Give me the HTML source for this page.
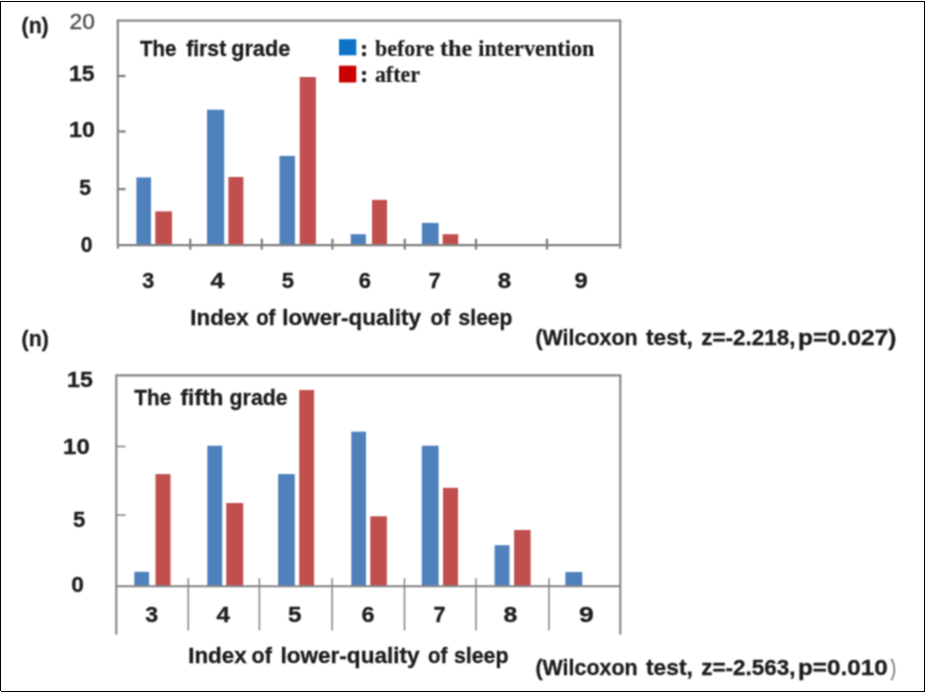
<!DOCTYPE html>
<html lang="en">
<head>
<meta charset="utf-8">
<title>Index of lower-quality of sleep</title>
<style>
html,body{margin:0;padding:0;background:#fff;}
body{width:926px;height:692px;overflow:hidden;}
svg{display:block;}
text{white-space:pre;}
</style>
</head>
<body>
<svg width="926" height="692" viewBox="0 0 926 692">
<rect x="0" y="0" width="926" height="692" fill="#fff"/>
<!-- outer frame -->
<rect x="0.00" y="1.00" width="925.00" height="1.00" fill="#000"/>
<rect x="1.00" y="691.00" width="924.00" height="1.00" fill="#000"/>
<rect x="0.00" y="1.00" width="1.00" height="690.00" fill="#000"/>
<rect x="924.00" y="1.00" width="1.00" height="691.00" fill="#000"/>
<defs><filter id="soft" x="0" y="0" width="926" height="692" filterUnits="userSpaceOnUse"><feConvolveMatrix order="3" kernelMatrix="1 2 1 2 4 2 1 2 1" edgeMode="duplicate"/></filter></defs>
<g filter="url(#soft)">
<!-- chart 1 -->
<rect x="136.40" y="177.40" width="14.60" height="67.70" fill="#4f81bd"/>
<rect x="155.30" y="211.40" width="16.70" height="33.70" fill="#c0504d"/>
<rect x="207.00" y="109.70" width="17.20" height="135.40" fill="#4f81bd"/>
<rect x="228.40" y="177.00" width="15.00" height="68.10" fill="#c0504d"/>
<rect x="279.50" y="155.90" width="15.50" height="89.20" fill="#4f81bd"/>
<rect x="299.70" y="77.00" width="16.20" height="168.10" fill="#c0504d"/>
<rect x="350.70" y="234.20" width="15.20" height="10.90" fill="#4f81bd"/>
<rect x="372.00" y="199.90" width="15.00" height="45.20" fill="#c0504d"/>
<rect x="421.90" y="222.90" width="16.70" height="22.20" fill="#4f81bd"/>
<rect x="442.70" y="234.20" width="15.50" height="10.90" fill="#c0504d"/>
<line x1="117.80" y1="19.40" x2="117.80" y2="248.70" stroke="#8c8c8c" stroke-width="2.30"/>
<line x1="620.15" y1="19.40" x2="620.15" y2="248.70" stroke="#8c8c8c" stroke-width="2.30"/>
<line x1="117.80" y1="20.55" x2="620.15" y2="20.55" stroke="#8c8c8c" stroke-width="2.30"/>
<line x1="117.80" y1="245.10" x2="620.15" y2="245.10" stroke="#808080" stroke-width="2.30"/>
<line x1="117.80" y1="76.00" x2="125.60" y2="76.00" stroke="#808080" stroke-width="2.30"/>
<line x1="117.80" y1="131.50" x2="125.60" y2="131.50" stroke="#808080" stroke-width="2.30"/>
<line x1="117.80" y1="189.10" x2="125.60" y2="189.10" stroke="#808080" stroke-width="2.30"/>
<line x1="190.30" y1="238.70" x2="190.30" y2="249.60" stroke="#808080" stroke-width="2.30"/>
<line x1="261.80" y1="238.70" x2="261.80" y2="249.60" stroke="#808080" stroke-width="2.30"/>
<line x1="332.40" y1="238.70" x2="332.40" y2="249.60" stroke="#808080" stroke-width="2.30"/>
<line x1="404.80" y1="238.70" x2="404.80" y2="249.60" stroke="#808080" stroke-width="2.30"/>
<line x1="476.00" y1="238.70" x2="476.00" y2="249.60" stroke="#808080" stroke-width="2.30"/>
<line x1="547.00" y1="238.70" x2="547.00" y2="249.60" stroke="#808080" stroke-width="2.30"/>
<rect x="339.00" y="39.20" width="17.30" height="16.10" fill="#0d73c7"/>
<rect x="339.00" y="65.70" width="17.30" height="16.80" fill="#cb0204"/>
<!-- chart 2 -->
<rect x="134.30" y="571.80" width="14.80" height="14.40" fill="#4f81bd"/>
<rect x="155.50" y="474.10" width="15.00" height="112.10" fill="#c0504d"/>
<rect x="207.30" y="445.70" width="14.90" height="140.50" fill="#4f81bd"/>
<rect x="226.20" y="503.00" width="17.00" height="83.20" fill="#c0504d"/>
<rect x="278.10" y="474.10" width="16.70" height="112.10" fill="#4f81bd"/>
<rect x="299.20" y="390.00" width="14.90" height="196.20" fill="#c0504d"/>
<rect x="351.30" y="431.70" width="14.70" height="154.50" fill="#4f81bd"/>
<rect x="370.30" y="516.30" width="16.60" height="69.90" fill="#c0504d"/>
<rect x="421.80" y="445.70" width="16.80" height="140.50" fill="#4f81bd"/>
<rect x="443.00" y="487.80" width="15.00" height="98.40" fill="#c0504d"/>
<rect x="494.60" y="545.20" width="14.90" height="41.00" fill="#4f81bd"/>
<rect x="514.10" y="530.00" width="16.50" height="56.20" fill="#c0504d"/>
<rect x="565.40" y="572.00" width="16.90" height="14.20" fill="#4f81bd"/>
<line x1="116.30" y1="374.35" x2="116.30" y2="634.60" stroke="#848484" stroke-width="2.10"/>
<line x1="620.30" y1="374.35" x2="620.30" y2="634.60" stroke="#848484" stroke-width="2.10"/>
<line x1="116.30" y1="375.40" x2="620.30" y2="375.40" stroke="#848484" stroke-width="2.10"/>
<line x1="116.30" y1="586.20" x2="620.30" y2="586.20" stroke="#848484" stroke-width="2.10"/>
<line x1="116.30" y1="446.50" x2="125.70" y2="446.50" stroke="#848484" stroke-width="1.50"/>
<line x1="116.30" y1="515.10" x2="125.70" y2="515.10" stroke="#848484" stroke-width="1.50"/>
<line x1="188.30" y1="578.20" x2="188.30" y2="630.50" stroke="#848484" stroke-width="1.50"/>
<line x1="259.40" y1="578.20" x2="259.40" y2="630.50" stroke="#848484" stroke-width="1.50"/>
<line x1="332.10" y1="578.20" x2="332.10" y2="630.50" stroke="#848484" stroke-width="1.50"/>
<line x1="404.50" y1="578.20" x2="404.50" y2="630.50" stroke="#848484" stroke-width="1.50"/>
<line x1="476.00" y1="578.20" x2="476.00" y2="630.50" stroke="#848484" stroke-width="1.50"/>
<line x1="549.00" y1="578.20" x2="549.00" y2="630.50" stroke="#848484" stroke-width="1.50"/>
<!-- labels -->
<text id="t0" x="21.60" y="32.50" font-family='"Liberation Sans", sans-serif' font-size="22.40" font-weight="700" fill="#1c1c1c" stroke="#1c1c1c" stroke-width="0.3" textLength="27.10" lengthAdjust="spacingAndGlyphs">(n)</text>
<text id="t1" x="69.60" y="29.30" font-family='"Liberation Sans", sans-serif' font-size="21.80" font-weight="400" fill="#505050" stroke="#505050" stroke-width="0.4" textLength="25.41" lengthAdjust="spacingAndGlyphs">20</text>
<text id="t2" x="69.10" y="81.20" font-family='"Liberation Sans", sans-serif' font-size="22.30" font-weight="700" fill="#1c1c1c" stroke="#1c1c1c" stroke-width="0.3" textLength="25.51" lengthAdjust="spacingAndGlyphs">15</text>
<text id="t3" x="69.10" y="137.00" font-family='"Liberation Sans", sans-serif' font-size="22.30" font-weight="700" fill="#1c1c1c" stroke="#1c1c1c" stroke-width="0.3" textLength="25.91" lengthAdjust="spacingAndGlyphs">10</text>
<text id="t4" x="79.20" y="194.60" font-family='"Liberation Sans", sans-serif' font-size="22.30" font-weight="700" fill="#1c1c1c" stroke="#1c1c1c" stroke-width="0.3" textLength="11.80" lengthAdjust="spacingAndGlyphs">5</text>
<text id="t5" x="80.80" y="251.70" font-family='"Liberation Sans", sans-serif' font-size="22.30" font-weight="700" fill="#1c1c1c" stroke="#1c1c1c" stroke-width="0.3" textLength="11.80" lengthAdjust="spacingAndGlyphs">0</text>
<text id="t6" x="142.20" y="288.00" font-family='"Liberation Sans", sans-serif' font-size="22.30" font-weight="700" fill="#1c1c1c" stroke="#1c1c1c" stroke-width="0.3" textLength="12.00" lengthAdjust="spacingAndGlyphs">3</text>
<text id="t7" x="210.60" y="288.00" font-family='"Liberation Sans", sans-serif' font-size="22.30" font-weight="700" fill="#1c1c1c" stroke="#1c1c1c" stroke-width="0.3" textLength="13.80" lengthAdjust="spacingAndGlyphs">4</text>
<text id="t8" x="281.80" y="288.00" font-family='"Liberation Sans", sans-serif' font-size="22.30" font-weight="700" fill="#1c1c1c" stroke="#1c1c1c" stroke-width="0.3" textLength="12.20" lengthAdjust="spacingAndGlyphs">5</text>
<text id="t9" x="358.80" y="288.00" font-family='"Liberation Sans", sans-serif' font-size="22.30" font-weight="700" fill="#1c1c1c" stroke="#1c1c1c" stroke-width="0.3" textLength="12.20" lengthAdjust="spacingAndGlyphs">6</text>
<text id="t10" x="428.80" y="288.00" font-family='"Liberation Sans", sans-serif' font-size="22.30" font-weight="700" fill="#1c1c1c" stroke="#1c1c1c" stroke-width="0.3" textLength="12.00" lengthAdjust="spacingAndGlyphs">7</text>
<text id="t11" x="497.80" y="288.00" font-family='"Liberation Sans", sans-serif' font-size="22.30" font-weight="700" fill="#1c1c1c" stroke="#1c1c1c" stroke-width="0.3" textLength="13.40" lengthAdjust="spacingAndGlyphs">8</text>
<text id="t12" x="574.40" y="288.00" font-family='"Liberation Sans", sans-serif' font-size="22.30" font-weight="700" fill="#1c1c1c" stroke="#1c1c1c" stroke-width="0.3" textLength="13.20" lengthAdjust="spacingAndGlyphs">9</text>
<text><tspan id="t13" x="139.90" y="56.00" font-family='"Liberation Sans", sans-serif' font-size="22.30" font-weight="700" fill="#1c1c1c" stroke="#1c1c1c" stroke-width="0.3" textLength="36.50" lengthAdjust="spacingAndGlyphs">The</tspan> <tspan id="t14" x="186.20" y="56.00" font-family='"Liberation Sans", sans-serif' font-size="22.30" font-weight="700" fill="#1c1c1c" stroke="#1c1c1c" stroke-width="0.3" textLength="40.00" lengthAdjust="spacingAndGlyphs">first</tspan> <tspan id="t15" x="231.20" y="56.00" font-family='"Liberation Sans", sans-serif' font-size="22.30" font-weight="700" fill="#1c1c1c" stroke="#1c1c1c" stroke-width="0.3" textLength="59.00" lengthAdjust="spacingAndGlyphs">grade</tspan></text>
<text><tspan id="t16" x="360.37" y="55.80" font-family='"Liberation Serif", serif' font-size="23.30" font-weight="700" fill="#1c1c1c" stroke="#1c1c1c" stroke-width="0.5">:</tspan> <tspan id="t17" x="375.00" y="55.80" font-family='"Liberation Serif", serif' font-size="23.30" font-weight="700" fill="#1c1c1c" stroke="#1c1c1c" stroke-width="0.15" textLength="59.29" lengthAdjust="spacingAndGlyphs">before</tspan> <tspan id="t18" x="440.00" y="55.80" font-family='"Liberation Serif", serif' font-size="23.30" font-weight="700" fill="#1c1c1c" stroke="#1c1c1c" stroke-width="0.15" textLength="32.30" lengthAdjust="spacingAndGlyphs">the</tspan> <tspan id="t19" x="478.30" y="55.80" font-family='"Liberation Serif", serif' font-size="23.30" font-weight="700" fill="#1c1c1c" stroke="#1c1c1c" stroke-width="0.15" textLength="116.09" lengthAdjust="spacingAndGlyphs">intervention</tspan></text>
<text><tspan id="t20" x="360.37" y="82.40" font-family='"Liberation Serif", serif' font-size="23.30" font-weight="700" fill="#1c1c1c" stroke="#1c1c1c" stroke-width="0.5">:</tspan> <tspan id="t21" x="374.90" y="82.40" font-family='"Liberation Serif", serif' font-size="23.30" font-weight="700" fill="#1c1c1c" stroke="#1c1c1c" stroke-width="0.15" textLength="45.09" lengthAdjust="spacingAndGlyphs">after</tspan></text>
<text><tspan id="t22" x="190.30" y="324.60" font-family='"Liberation Sans", sans-serif' font-size="22.30" font-weight="700" fill="#1c1c1c" stroke="#1c1c1c" stroke-width="0.3" textLength="58.30" lengthAdjust="spacingAndGlyphs">Index</tspan> <tspan id="t23" x="256.20" y="324.60" font-family='"Liberation Sans", sans-serif' font-size="22.30" font-weight="700" fill="#1c1c1c" stroke="#1c1c1c" stroke-width="0.3" textLength="19.16" lengthAdjust="spacingAndGlyphs">of</tspan> <tspan id="t24" x="282.20" y="324.60" font-family='"Liberation Sans", sans-serif' font-size="22.30" font-weight="700" fill="#1c1c1c" stroke="#1c1c1c" stroke-width="0.3" textLength="138.79" lengthAdjust="spacingAndGlyphs">lower-quality</tspan> <tspan id="t25" x="430.60" y="324.60" font-family='"Liberation Sans", sans-serif' font-size="22.30" font-weight="700" fill="#1c1c1c" stroke="#1c1c1c" stroke-width="0.3" textLength="19.56" lengthAdjust="spacingAndGlyphs">of</tspan> <tspan id="t26" x="458.60" y="324.60" font-family='"Liberation Sans", sans-serif' font-size="22.30" font-weight="700" fill="#1c1c1c" stroke="#1c1c1c" stroke-width="0.3" textLength="53.80" lengthAdjust="spacingAndGlyphs">sleep</tspan></text>
<text><tspan id="t27" x="535.40" y="345.40" font-family='"Liberation Sans", sans-serif' font-size="22.30" font-weight="700" fill="#1c1c1c" stroke="#1c1c1c" stroke-width="0.3" textLength="102.19" lengthAdjust="spacingAndGlyphs">(Wilcoxon</tspan> <tspan id="t28" x="646.00" y="345.40" font-family='"Liberation Sans", sans-serif' font-size="22.30" font-weight="700" fill="#1c1c1c" stroke="#1c1c1c" stroke-width="0.3" textLength="46.80" lengthAdjust="spacingAndGlyphs">test,</tspan> <tspan id="t29" x="701.30" y="345.40" font-family='"Liberation Sans", sans-serif' font-size="22.30" font-weight="700" fill="#1c1c1c" stroke="#1c1c1c" stroke-width="0.3" textLength="94.11" lengthAdjust="spacingAndGlyphs">z=-2.218,</tspan> <tspan id="t30" x="798.00" y="345.40" font-family='"Liberation Sans", sans-serif' font-size="22.30" font-weight="700" fill="#1c1c1c" stroke="#1c1c1c" stroke-width="0.3" textLength="98.41" lengthAdjust="spacingAndGlyphs">p=0.027)</tspan></text>
<text id="t31" x="21.60" y="346.00" font-family='"Liberation Sans", sans-serif' font-size="22.40" font-weight="700" fill="#1c1c1c" stroke="#1c1c1c" stroke-width="0.3" textLength="27.30" lengthAdjust="spacingAndGlyphs">(n)</text>
<text id="t32" x="67.10" y="386.60" font-family='"Liberation Sans", sans-serif' font-size="22.30" font-weight="700" fill="#1c1c1c" stroke="#1c1c1c" stroke-width="0.3" textLength="25.71" lengthAdjust="spacingAndGlyphs">15</text>
<text id="t33" x="63.10" y="453.50" font-family='"Liberation Sans", sans-serif' font-size="22.30" font-weight="700" fill="#1c1c1c" stroke="#1c1c1c" stroke-width="0.3" textLength="26.71" lengthAdjust="spacingAndGlyphs">10</text>
<text id="t34" x="73.00" y="527.00" font-family='"Liberation Sans", sans-serif' font-size="22.30" font-weight="700" fill="#1c1c1c" stroke="#1c1c1c" stroke-width="0.3" textLength="12.30" lengthAdjust="spacingAndGlyphs">5</text>
<text id="t35" x="71.20" y="591.60" font-family='"Liberation Sans", sans-serif' font-size="22.30" font-weight="700" fill="#1c1c1c" stroke="#1c1c1c" stroke-width="0.3" textLength="12.70" lengthAdjust="spacingAndGlyphs">0</text>
<text id="t36" x="145.30" y="622.00" font-family='"Liberation Sans", sans-serif' font-size="22.30" font-weight="700" fill="#1c1c1c" stroke="#1c1c1c" stroke-width="0.3" textLength="12.90" lengthAdjust="spacingAndGlyphs">3</text>
<text id="t37" x="216.50" y="622.00" font-family='"Liberation Sans", sans-serif' font-size="22.30" font-weight="700" fill="#1c1c1c" stroke="#1c1c1c" stroke-width="0.3" textLength="13.50" lengthAdjust="spacingAndGlyphs">4</text>
<text id="t38" x="288.00" y="622.00" font-family='"Liberation Sans", sans-serif' font-size="22.30" font-weight="700" fill="#1c1c1c" stroke="#1c1c1c" stroke-width="0.3" textLength="13.50" lengthAdjust="spacingAndGlyphs">5</text>
<text id="t39" x="361.50" y="622.00" font-family='"Liberation Sans", sans-serif' font-size="22.30" font-weight="700" fill="#1c1c1c" stroke="#1c1c1c" stroke-width="0.3" textLength="13.00" lengthAdjust="spacingAndGlyphs">6</text>
<text id="t40" x="433.50" y="622.00" font-family='"Liberation Sans", sans-serif' font-size="22.30" font-weight="700" fill="#1c1c1c" stroke="#1c1c1c" stroke-width="0.3" textLength="12.00" lengthAdjust="spacingAndGlyphs">7</text>
<text id="t41" x="503.50" y="622.00" font-family='"Liberation Sans", sans-serif' font-size="22.30" font-weight="700" fill="#1c1c1c" stroke="#1c1c1c" stroke-width="0.3" textLength="13.80" lengthAdjust="spacingAndGlyphs">8</text>
<text id="t42" x="579.00" y="622.00" font-family='"Liberation Sans", sans-serif' font-size="22.30" font-weight="700" fill="#1c1c1c" stroke="#1c1c1c" stroke-width="0.3" textLength="14.80" lengthAdjust="spacingAndGlyphs">9</text>
<text><tspan id="t43" x="134.30" y="405.00" font-family='"Liberation Sans", sans-serif' font-size="22.30" font-weight="700" fill="#1c1c1c" stroke="#1c1c1c" stroke-width="0.3" textLength="36.90" lengthAdjust="spacingAndGlyphs">The</tspan> <tspan id="t44" x="180.50" y="405.00" font-family='"Liberation Sans", sans-serif' font-size="22.30" font-weight="700" fill="#1c1c1c" stroke="#1c1c1c" stroke-width="0.3" textLength="42.89" lengthAdjust="spacingAndGlyphs">fifth</tspan> <tspan id="t45" x="229.60" y="405.00" font-family='"Liberation Sans", sans-serif' font-size="22.30" font-weight="700" fill="#1c1c1c" stroke="#1c1c1c" stroke-width="0.3" textLength="58.00" lengthAdjust="spacingAndGlyphs">grade</tspan></text>
<text><tspan id="t46" x="188.20" y="662.50" font-family='"Liberation Sans", sans-serif' font-size="22.30" font-weight="700" fill="#1c1c1c" stroke="#1c1c1c" stroke-width="0.3" textLength="58.50" lengthAdjust="spacingAndGlyphs">Index</tspan> <tspan id="t47" x="251.60" y="662.50" font-family='"Liberation Sans", sans-serif' font-size="22.30" font-weight="700" fill="#1c1c1c" stroke="#1c1c1c" stroke-width="0.3" textLength="20.35" lengthAdjust="spacingAndGlyphs">of</tspan> <tspan id="t48" x="280.40" y="662.50" font-family='"Liberation Sans", sans-serif' font-size="22.30" font-weight="700" fill="#1c1c1c" stroke="#1c1c1c" stroke-width="0.3" textLength="139.19" lengthAdjust="spacingAndGlyphs">lower-quality</tspan> <tspan id="t49" x="428.10" y="662.50" font-family='"Liberation Sans", sans-serif' font-size="22.30" font-weight="700" fill="#1c1c1c" stroke="#1c1c1c" stroke-width="0.3" textLength="19.26" lengthAdjust="spacingAndGlyphs">of</tspan> <tspan id="t50" x="453.90" y="662.50" font-family='"Liberation Sans", sans-serif' font-size="22.30" font-weight="700" fill="#1c1c1c" stroke="#1c1c1c" stroke-width="0.3" textLength="54.70" lengthAdjust="spacingAndGlyphs">sleep</tspan></text>
<text><tspan id="t51" x="535.40" y="675.40" font-family='"Liberation Sans", sans-serif' font-size="22.30" font-weight="700" fill="#1c1c1c" stroke="#1c1c1c" stroke-width="0.3" textLength="102.19" lengthAdjust="spacingAndGlyphs">(Wilcoxon</tspan> <tspan id="t52" x="646.00" y="675.40" font-family='"Liberation Sans", sans-serif' font-size="22.30" font-weight="700" fill="#1c1c1c" stroke="#1c1c1c" stroke-width="0.3" textLength="46.80" lengthAdjust="spacingAndGlyphs">test,</tspan> <tspan id="t53" x="701.30" y="675.40" font-family='"Liberation Sans", sans-serif' font-size="22.30" font-weight="700" fill="#1c1c1c" stroke="#1c1c1c" stroke-width="0.3" textLength="94.11" lengthAdjust="spacingAndGlyphs">z=-2.563,</tspan> <tspan id="t54" x="798.00" y="675.40" font-family='"Liberation Sans", sans-serif' font-size="22.30" font-weight="700" fill="#1c1c1c" stroke="#1c1c1c" stroke-width="0.3" textLength="89.81" lengthAdjust="spacingAndGlyphs">p=0.010</tspan><tspan id="t55" x="890.60" y="675.20" font-family='"Liberation Sans", sans-serif' font-size="22.00" font-weight="400" fill="#7c8088" stroke="#7c8088" stroke-width="0.4" textLength="5.60" lengthAdjust="spacingAndGlyphs">)</tspan></text>
</g>
</svg>
</body>
</html>
